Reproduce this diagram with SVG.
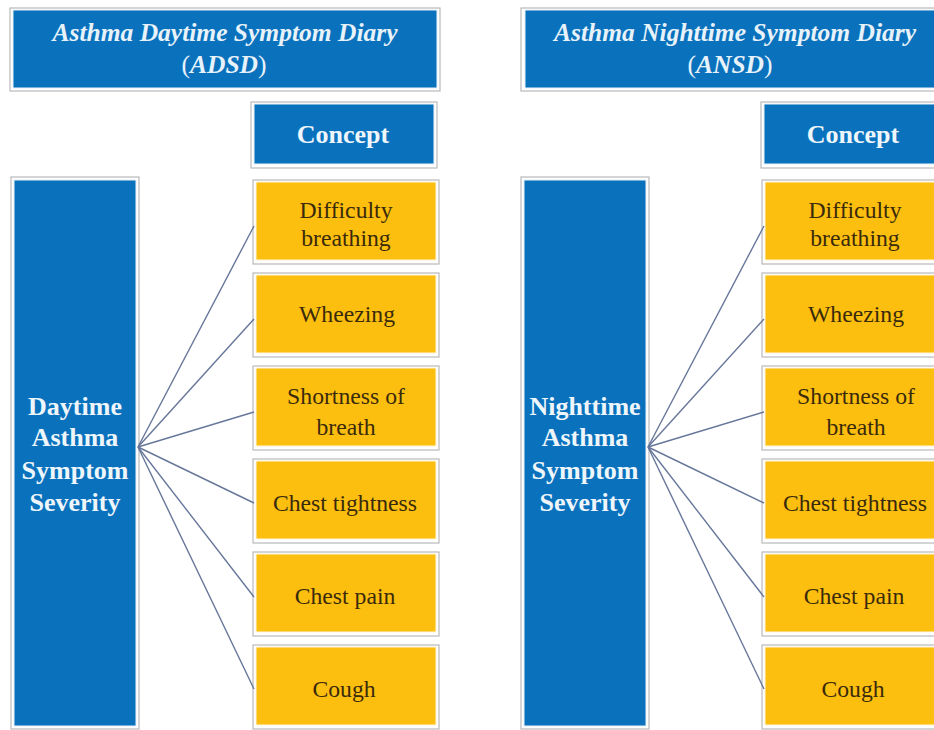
<svg xmlns="http://www.w3.org/2000/svg" width="934" height="730" viewBox="0 0 934 730">
<style>
.frame{fill:#ffffff;stroke:#b9b9b9;stroke-width:1.2}
.blue{fill:#0a72bd;stroke:#e6f1f9;stroke-width:1}
.yel{fill:#fdbf0f;stroke:#fff6dc;stroke-width:1}
.title{font-family:"Liberation Serif","Times New Roman",serif;font-size:25.5px;font-weight:bold;font-style:italic;fill:#e8f2fa;text-anchor:middle}
.up{font-style:normal;font-weight:normal}
.head{font-family:"Liberation Serif","Times New Roman",serif;font-size:26px;font-weight:bold;fill:#eef6fc;text-anchor:middle}
.item{font-family:"Liberation Serif","Times New Roman",serif;font-size:23.7px;fill:#3a2a0c;text-anchor:middle}
.conn line{stroke:#67779a;stroke-width:1.4}
</style>
<rect width="934" height="730" fill="#ffffff"/>

<!-- Left side -->
<g id="title-adsd">
<rect class="frame" x="10" y="8" width="430" height="83"/>
<rect class="blue" x="13" y="10" width="424" height="78"/>
<text class="title" x="225" y="41">Asthma Daytime Symptom Diary</text>
<text class="title" x="224" y="73"><tspan class="up">(</tspan>ADSD<tspan class="up">)</tspan></text>
</g>
<g id="concept-left">
<rect class="frame" x="251" y="102" width="186" height="66"/>
<rect class="blue" x="254" y="104" width="180" height="60"/>
<text class="head" x="343" y="143">Concept</text>
</g>
<g id="daytime-severity">
<rect class="frame" x="11" y="177" width="128" height="552"/>
<rect class="blue" x="14" y="180" width="122" height="546"/>
<text class="head" x="75" y="415">Daytime</text>
<text class="head" x="75" y="446">Asthma</text>
<text class="head" x="75" y="479">Symptom</text>
<text class="head" x="75" y="511">Severity</text>
</g>
<g id="l-difficulty">
<rect class="frame" x="253" y="180" width="186" height="84"/>
<rect class="yel" x="256" y="182" width="180" height="78"/>
<text class="item" x="346" y="218">Difficulty</text>
<text class="item" x="346" y="246">breathing</text>
</g>
<g id="l-wheezing">
<rect class="frame" x="253" y="273" width="186" height="84"/>
<rect class="yel" x="256" y="275" width="180" height="78"/>
<text class="item" x="347" y="322">Wheezing</text>
</g>
<g id="l-shortness">
<rect class="frame" x="253" y="366" width="186" height="84"/>
<rect class="yel" x="256" y="368" width="180" height="78"/>
<text class="item" x="346" y="404">Shortness of</text>
<text class="item" x="346" y="435">breath</text>
</g>
<g id="l-chest-tightness">
<rect class="frame" x="253" y="459" width="186" height="84"/>
<rect class="yel" x="256" y="461" width="180" height="78"/>
<text class="item" x="345" y="511">Chest tightness</text>
</g>
<g id="l-chest-pain">
<rect class="frame" x="253" y="552" width="186" height="84"/>
<rect class="yel" x="256" y="554" width="180" height="78"/>
<text class="item" x="345" y="604">Chest pain</text>
</g>
<g id="l-cough">
<rect class="frame" x="253" y="645" width="186" height="84"/>
<rect class="yel" x="256" y="647" width="180" height="78"/>
<text class="item" x="344" y="697">Cough</text>
</g>

<!-- Right side -->
<g id="title-ansd">
<rect class="frame" x="521" y="8" width="430" height="83"/>
<rect class="blue" x="525" y="10" width="424" height="78"/>
<text class="title" x="735" y="41">Asthma Nighttime Symptom Diary</text>
<text class="title" x="730" y="73"><tspan class="up">(</tspan>ANSD<tspan class="up">)</tspan></text>
</g>
<g id="concept-right">
<rect class="frame" x="761" y="102" width="190" height="66"/>
<rect class="blue" x="764" y="104" width="184" height="60"/>
<text class="head" x="853" y="143">Concept</text>
</g>
<g id="nighttime-severity">
<rect class="frame" x="521" y="177" width="128" height="552"/>
<rect class="blue" x="524" y="180" width="122" height="546"/>
<text class="head" x="585" y="415">Nighttime</text>
<text class="head" x="585" y="446">Asthma</text>
<text class="head" x="585" y="479">Symptom</text>
<text class="head" x="585" y="511">Severity</text>
</g>
<g id="r-difficulty">
<rect class="frame" x="762" y="180" width="190" height="84"/>
<rect class="yel" x="765" y="182" width="184" height="78"/>
<text class="item" x="855" y="218">Difficulty</text>
<text class="item" x="855" y="246">breathing</text>
</g>
<g id="r-wheezing">
<rect class="frame" x="762" y="273" width="190" height="84"/>
<rect class="yel" x="765" y="275" width="184" height="78"/>
<text class="item" x="856" y="322">Wheezing</text>
</g>
<g id="r-shortness">
<rect class="frame" x="762" y="366" width="190" height="84"/>
<rect class="yel" x="765" y="368" width="184" height="78"/>
<text class="item" x="856" y="404">Shortness of</text>
<text class="item" x="856" y="435">breath</text>
</g>
<g id="r-chest-tightness">
<rect class="frame" x="762" y="459" width="190" height="84"/>
<rect class="yel" x="765" y="461" width="184" height="78"/>
<text class="item" x="855" y="511">Chest tightness</text>
</g>
<g id="r-chest-pain">
<rect class="frame" x="762" y="552" width="190" height="84"/>
<rect class="yel" x="765" y="554" width="184" height="78"/>
<text class="item" x="854" y="604">Chest pain</text>
</g>
<g id="r-cough">
<rect class="frame" x="762" y="645" width="190" height="84"/>
<rect class="yel" x="765" y="647" width="184" height="78"/>
<text class="item" x="853" y="697">Cough</text>
</g>

<g id="connectors" class="conn">
<line x1="138" y1="447" x2="254" y2="226"/>
<line x1="138" y1="447" x2="254" y2="319"/>
<line x1="138" y1="447" x2="254" y2="412"/>
<line x1="138" y1="447" x2="254" y2="503"/>
<line x1="138" y1="447" x2="254" y2="597"/>
<line x1="138" y1="447" x2="254" y2="689"/>
<line x1="648" y1="447" x2="764" y2="226"/>
<line x1="648" y1="447" x2="764" y2="319"/>
<line x1="648" y1="447" x2="764" y2="412"/>
<line x1="648" y1="447" x2="764" y2="503"/>
<line x1="648" y1="447" x2="764" y2="597"/>
<line x1="648" y1="447" x2="764" y2="689"/>
</g>
</svg>
